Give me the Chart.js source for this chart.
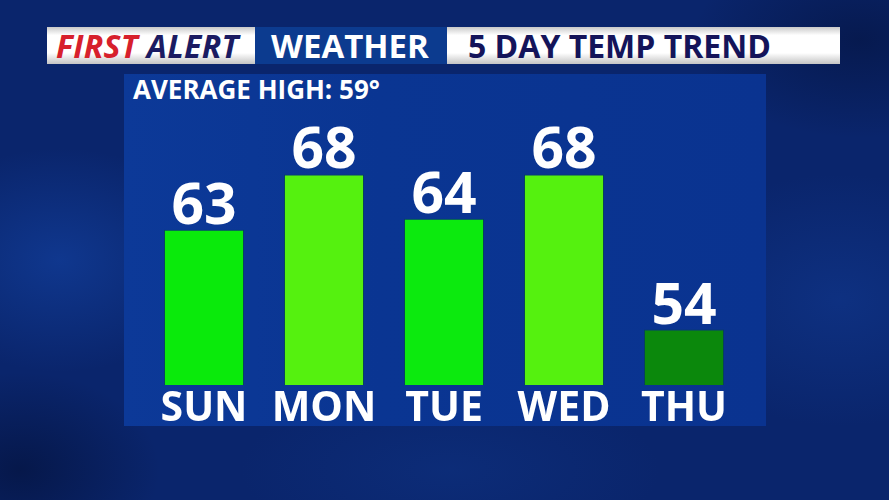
<!DOCTYPE html>
<html>
<head>
<meta charset="utf-8">
<script src="https://cdn.jsdelivr.net/npm/chart.js@4/dist/chart.umd.min.js"></script>
<style>
  html, body { margin: 0; padding: 0; }
  body {
    width: 889px; height: 500px; overflow: hidden; position: relative;
    font-family: "Open Sans", sans-serif; font-weight: 700;
    background:
      radial-gradient(ellipse 220px 160px at 60px 260px, rgba(20,70,170,0.55), rgba(20,70,170,0) 70%),
      radial-gradient(ellipse 260px 180px at 840px 300px, rgba(18,60,150,0.5), rgba(18,60,150,0) 70%),
      radial-gradient(ellipse 300px 120px at 450px 470px, rgba(14,50,130,0.55), rgba(14,50,130,0) 70%),
      radial-gradient(ellipse 200px 140px at 20px 470px, rgba(4,18,60,0.7), rgba(4,18,60,0) 70%),
      radial-gradient(ellipse 240px 140px at 860px 40px, rgba(4,18,60,0.6), rgba(4,18,60,0) 70%),
      #0a256c;
  }
  .box { position: absolute; top: 27px; height: 37px; line-height: 37px; white-space: nowrap; }
  .white { background: linear-gradient(#c9c9c9, #ffffff 22%, #ffffff 70%, #c4c4c4); }
  #fa { left: 47px; width: 208px; font-style: italic; font-size: 32px; letter-spacing: 0.3px; }
  #fa .r { color: #d7202c; padding-left: 9px; }
  #fa .n { color: #1b1b62; }
  #wx { left: 255px; width: 193px; background: #0c3b8f; color: #fff; font-size: 33px; padding-left: 16px; box-sizing: border-box; }
  #tt { left: 447px; width: 393px; color: #14145a; font-size: 32px; padding-left: 21px; box-sizing: border-box; }
  #panel {
    position: absolute; left: 124px; top: 74px; width: 642px; height: 352px;
    background: linear-gradient(90deg, #0c3998, #0a3592 40%, #0a3390);
  }
  #avg { position: absolute; left: 133px; top: 73px; color: #fff; font-size: 26px; line-height: 32px; }
  #wrap { position: absolute; left: 124px; top: 74px; width: 642px; height: 352px; }
</style>
</head>
<body>
<div class="box white" id="fa"><span class="r">FIRST</span> <span class="n">ALERT</span></div>
<div class="box" id="wx">WEATHER</div>
<div class="box white" id="tt">5 DAY TEMP TREND</div>
<div id="panel"></div>
<div id="avg"></div>
<div id="wrap"><canvas id="temps"></canvas></div>
<script>
const days = ['SUN', 'MON', 'TUE', 'WED', 'THU'];
const highs = [63, 68, 64, 68, 54];
const barColors = ['#0aea0b', '#55f10f', '#0cea0e', '#55f10f', '#0b880c'];
const averageHigh = 59;

document.getElementById('avg').textContent = 'AVERAGE HIGH: ' + averageHigh + '\u00b0';

// numbers above each bar
const valueLabels = {
    id: 'valueLabels',
    afterDatasetsDraw(chart) {
        const ctx = chart.ctx;
        const meta = chart.getDatasetMeta(0);
        ctx.save();
        ctx.fillStyle = '#ffffff';
        ctx.font = 'bold 57px "Open Sans"';
        ctx.textAlign = 'center';
        ctx.textBaseline = 'alphabetic';
        meta.data.forEach((bar, i) => {
            ctx.fillText(String(highs[i]), bar.x, bar.y - 6);
        });
        ctx.restore();
    }
};

const tempChart = new Chart(document.getElementById('temps'), {
    type: 'bar',
    data: {
        labels: days,
        datasets: [{
            data: highs,
            backgroundColor: barColors,
            borderColor: 'rgba(0,90,0,0.35)',
            borderWidth: 1,
            borderSkipped: false,
            barPercentage: 0.667,
            categoryPercentage: 1
        }]
    },
    options: {
        responsive: true,
        maintainAspectRatio: false,
        animation: false,
        events: [],
        layout: { padding: { left: 20, right: 22, top: 45, bottom: 0 } },
        plugins: { legend: { display: false }, tooltip: { enabled: false } },
        scales: {
            y: { display: false, min: 49, max: 73 },
            x: {
                grid: { display: false },
                border: { display: false },
                ticks: {
                    color: '#ffffff',
                    padding: -8,
                    font: { family: 'Open Sans', weight: 'bold', size: 41 }
                },
                afterFit: (scale) => { scale.height = 41; }
            }
        }
    },
    plugins: [valueLabels]
});
</script>
</body>
</html>
